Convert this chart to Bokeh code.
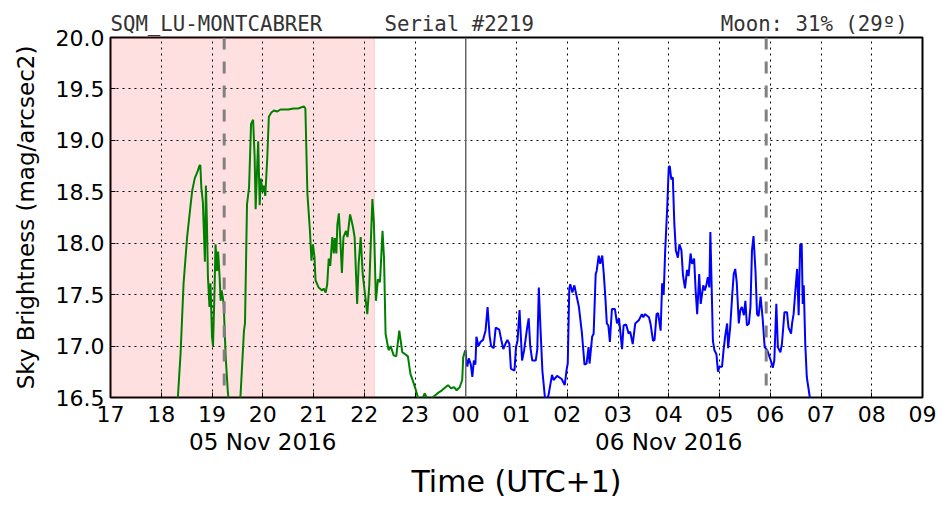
from bokeh.plotting import figure
from bokeh.models import (Range1d, FixedTicker, LinearAxis, Span,
                          ColumnDataSource, NumeralTickFormatter)
from bokeh.embed import file_html
from bokeh.resources import INLINE

# ---------------- data ----------------
station = "SQM_LU-MONTCABRER"
serial = "Serial #2219"
moon = "Moon: 31% (29º)"

x_ticks = list(range(17, 34))
x_tick_labels = ["17", "18", "19", "20", "21", "22", "23", "00", "01", "02",
                 "03", "04", "05", "06", "07", "08", "09"]
date_ticks = [20, 28]
date_labels = ["05 Nov 2016", "06 Nov 2016"]
y_ticks = [16.5, 17.0, 17.5, 18.0, 18.5, 19.0, 19.5, 20.0]

twilight_start = 17.0
twilight_end = 22.2
moon_lines = [19.24, 29.92]
midnight = 24.0

green_t = [18.25, 18.33, 18.38, 18.44, 18.51, 18.58, 18.61, 18.66, 18.71, 18.75,
           18.77, 18.79, 18.82, 18.86, 18.88, 18.90, 18.92, 18.95, 18.97, 19.00,
           19.02, 19.05, 19.07, 19.10, 19.12, 19.15, 19.17, 19.19, 19.21, 19.23,
           19.27, 19.31, 19.34, 19.45, 19.55, 19.56, 19.63, 19.65, 19.69, 19.73,
           19.77, 19.81, 19.84, 19.86, 19.89, 19.91, 19.94, 19.96, 20.00, 20.02,
           20.05, 20.09, 20.12, 20.17, 20.22, 20.28, 20.35, 20.41, 20.50, 20.61,
           20.70, 20.81, 20.84, 20.88, 20.93, 20.96, 20.99, 21.02, 21.04, 21.10,
           21.17, 21.20, 21.24, 21.27, 21.30, 21.33, 21.37, 21.40, 21.42, 21.45,
           21.47, 21.50, 21.53, 21.56, 21.59, 21.64, 21.67, 21.72, 21.75, 21.78,
           21.81, 21.86, 21.89, 21.93, 21.97, 22.02, 22.06, 22.10, 22.16, 22.19,
           22.23, 22.27, 22.31, 22.36, 22.39, 22.42, 22.48, 22.52, 22.58, 22.63,
           22.69, 22.75, 22.81, 22.86, 22.91, 22.98, 23.03, 23.07, 23.13, 23.19,
           23.24, 23.30, 23.44, 23.53, 23.60, 23.65, 23.71, 23.77, 23.82, 23.88,
           23.93, 23.95, 23.99]
green_y = [16.20, 16.52, 16.92, 17.61, 18.06, 18.38, 18.51, 18.63, 18.69, 18.75,
           18.76, 18.54, 18.40, 17.82, 18.56, 18.20, 17.67, 17.38, 17.61, 17.09,
           17.00, 17.54, 17.99, 17.73, 17.92, 17.67, 17.44, 17.54, 17.48, 17.41,
           16.89, 16.57, 16.40, 16.20, 16.40, 16.50, 17.15, 17.22, 18.38, 18.54,
           19.16, 19.20, 18.84, 18.33, 18.74, 18.99, 18.37, 18.63, 18.50, 18.56,
           18.46, 18.84, 19.23, 19.27, 19.29, 19.28, 19.30, 19.30, 19.30, 19.31,
           19.31, 19.33, 19.31, 18.48, 18.12, 17.83, 17.99, 17.86, 17.64, 17.57,
           17.54, 17.56, 17.52, 17.60, 17.85, 17.78, 18.06, 17.90, 18.05, 17.90,
           18.18, 18.29, 18.02, 17.71, 18.06, 18.12, 18.06, 18.28, 18.22, 18.15,
           18.06, 17.41, 17.80, 18.06, 17.70, 17.48, 17.31, 17.60, 18.43, 18.20,
           17.44, 17.65, 17.62, 18.12, 17.85, 17.12, 16.96, 17.00, 16.91, 16.90,
           17.15, 16.94, 16.92, 16.90, 16.73, 16.63, 16.55, 16.48, 16.47, 16.54,
           16.49, 16.48, 16.54, 16.57, 16.60, 16.62, 16.59, 16.60, 16.57, 16.60,
           16.67, 16.89, 16.96]

blue_t = [24.00, 24.01, 24.03, 24.06, 24.10, 24.13, 24.16, 24.19, 24.21, 24.25,
          24.29, 24.34, 24.39, 24.43, 24.47, 24.50, 24.55, 24.59, 24.66, 24.70,
          24.74, 24.79, 24.82, 24.86, 24.89, 24.96, 24.99, 25.02, 25.06, 25.11,
          25.15, 25.21, 25.24, 25.27, 25.31, 25.38, 25.41, 25.44, 25.47, 25.51,
          25.57, 25.63, 25.70, 25.73, 25.80, 25.86, 25.89, 25.95, 25.99, 26.01,
          26.04, 26.06, 26.10, 26.14, 26.23, 26.29, 26.34, 26.38, 26.42, 26.44,
          26.49, 26.52, 26.56, 26.58, 26.62, 26.65, 26.69, 26.72, 26.75, 26.78,
          26.81, 26.84, 26.88, 26.94, 26.98, 27.02, 27.08, 27.11, 27.16, 27.21,
          27.24, 27.29, 27.34, 27.41, 27.47, 27.50, 27.53, 27.56, 27.61, 27.64,
          27.69, 27.72, 27.76, 27.79, 27.84, 27.87, 27.90, 27.93, 27.97, 28.00,
          28.02, 28.05, 28.08, 28.11, 28.14, 28.18, 28.21, 28.25, 28.28, 28.32,
          28.36, 28.39, 28.43, 28.46, 28.50, 28.53, 28.56, 28.60, 28.63, 28.68,
          28.71, 28.74, 28.77, 28.80, 28.82, 28.85, 28.87, 28.90, 28.94, 28.97,
          29.00, 29.05, 29.08, 29.11, 29.15, 29.17, 29.21, 29.25, 29.28, 29.31,
          29.34, 29.38, 29.41, 29.44, 29.48, 29.51, 29.54, 29.58, 29.61, 29.64,
          29.67, 29.71, 29.74, 29.77, 29.81, 29.85, 29.89, 29.94, 30.01, 30.05,
          30.08, 30.12, 30.15, 30.20, 30.23, 30.28, 30.33, 30.36, 30.41, 30.43,
          30.46, 30.50, 30.53, 30.56, 30.57, 30.59, 30.62, 30.64, 30.66, 30.69,
          30.72, 30.78, 30.82]
blue_y = [16.96, 16.86, 16.80, 16.88, 16.82, 16.70, 16.86, 16.82, 17.09, 17.00,
          17.04, 17.06, 17.15, 17.38, 17.10, 17.00, 16.98, 17.18, 17.16, 17.06,
          16.97, 17.03, 17.06, 17.02, 16.78, 16.76, 16.99, 17.05, 17.35, 16.86,
          16.96, 17.18, 17.27, 17.00, 16.86, 16.86, 16.97, 17.57, 17.20, 16.76,
          16.45, 16.52, 16.72, 16.67, 16.71, 16.69, 16.68, 16.62, 16.78, 16.83,
          17.56, 17.60, 17.52, 17.59, 17.38, 17.12, 16.82, 16.83, 16.99, 16.83,
          17.09, 17.12, 17.70, 17.73, 17.88, 17.80, 17.88, 17.70, 17.48, 17.22,
          17.20, 17.04, 17.36, 17.36, 17.22, 17.27, 16.97, 17.20, 17.21, 17.12,
          17.14, 17.02, 17.22, 17.25, 17.31, 17.28, 17.31, 17.30, 17.28, 17.22,
          17.05, 17.06, 17.31, 17.32, 17.15, 17.61, 17.50, 17.93, 18.35, 18.74,
          18.75, 18.62, 18.64, 18.19, 17.93, 17.86, 17.99, 17.93, 17.69, 17.56,
          17.74, 17.68, 17.90, 17.80, 17.85, 17.54, 17.31, 17.70, 17.41, 17.59,
          17.54, 17.59, 17.67, 17.57, 18.11, 17.48, 17.05, 16.96, 16.92, 16.75,
          16.80, 16.80, 16.96, 17.09, 17.22, 16.98, 17.18, 17.49, 17.70, 17.75,
          17.62, 17.22, 17.35, 17.38, 17.30, 17.44, 17.20, 17.22, 17.38, 17.93,
          18.07, 17.72, 17.31, 17.29, 17.48, 17.27, 16.99, 16.96, 16.86, 16.79,
          16.86, 17.41, 16.99, 16.94, 17.02, 17.33, 17.33, 17.18, 17.12, 17.22,
          17.31, 17.57, 17.75, 17.30, 17.55, 17.99, 17.99, 17.41, 17.59, 17.02,
          16.70, 16.50, 16.30]

# ---------------- figure ----------------
FONT = "DejaVu Sans"
MONO = "DejaVu Sans Mono"
NB = "\u00a0"

header = station + NB * 5 + serial + NB * 15 + moon

p = figure(width=952, height=512, output_backend="svg", toolbar_location=None,
           x_range=Range1d(17, 33), y_range=Range1d(16.5, 20.0),
           min_border_left=110, min_border_right=30, min_border_top=37,
           min_border_bottom=115)
p.background_fill_color = "white"
p.border_fill_color = "white"
p.outline_line_color = "black"
p.outline_line_width = 2

p.title.text = header
p.title.align = "left"
p.title.text_font = MONO
p.title.text_font_size = "20.7px"
p.title.text_font_style = "normal"
p.title.text_color = "#333333"
p.title.standoff = 4
p.title.offset = 0

# twilight shading
shade = ColumnDataSource(dict(left=[twilight_start], right=[twilight_end],
                              bottom=[16.5], top=[20.0]))
r = p.quad(left="left", right="right", bottom="bottom", top="top", source=shade,
           fill_color="red", fill_alpha=0.12, line_color="red", line_alpha=0.15,
           line_width=1)
r.level = "image"

# grids
for g in (p.xgrid, p.ygrid):
    g.grid_line_color = "black"
    g.grid_line_dash = "2 4"
    g.grid_line_width = 1
p.xgrid.ticker = FixedTicker(ticks=x_ticks)
p.ygrid.ticker = FixedTicker(ticks=y_ticks)

# midnight line
p.add_layout(Span(location=midnight, dimension="height", line_color="#666666",
                  line_width=1.5))

# data
p.line(green_t, green_y, line_color="green", line_width=2)
p.line(blue_t, blue_y, line_color="blue", line_width=2)

# moon lines
for m in moon_lines:
    p.add_layout(Span(location=m, dimension="height", line_color="gray",
                      line_width=3, line_dash="12 12"))

# x axis (hours)
xa = p.xaxis[0]
xa.ticker = FixedTicker(ticks=x_ticks)
xa.major_label_overrides = {t: l for t, l in zip(x_ticks, x_tick_labels)}
xa.major_label_text_font = FONT
xa.major_label_text_font_size = "22px"
xa.major_label_text_color = "black"
xa.axis_line_color = None
xa.major_tick_in = 5
xa.major_tick_out = 0
xa.major_tick_line_color = "black"
xa.minor_tick_line_color = None
xa.major_label_standoff = 8

# date axis
da = LinearAxis(ticker=FixedTicker(ticks=date_ticks),
                major_label_overrides={t: l for t, l in zip(date_ticks, date_labels)},
                axis_line_color=None, major_tick_line_color=None,
                minor_tick_line_color=None, major_label_standoff=-2,
                major_label_text_font=FONT, major_label_text_font_size="23px",
                major_label_text_color="black",
                axis_label="Time (UTC+1)", axis_label_text_font=FONT,
                axis_label_text_font_size="30px", axis_label_text_font_style="normal",
                axis_label_text_color="black",
                axis_label_standoff=6)
p.add_layout(da, "below")

# y axis
ya = p.yaxis[0]
ya.ticker = FixedTicker(ticks=y_ticks)
ya.formatter = NumeralTickFormatter(format="0.0")
ya.major_label_text_font = FONT
ya.major_label_text_font_size = "22px"
ya.major_label_text_color = "black"
ya.axis_line_color = None
ya.major_tick_in = 5
ya.major_tick_out = 0
ya.major_tick_line_color = "black"
ya.minor_tick_line_color = None
ya.major_label_standoff = 6
ya.axis_label = "Sky Brightness (mag/arcsec2)"
ya.axis_label_text_font = FONT
ya.axis_label_text_font_size = "23px"
ya.axis_label_text_font_style = "normal"
ya.axis_label_text_color = "black"
ya.axis_label_standoff = 14

open("out.html", "w").write(file_html(p, INLINE))
